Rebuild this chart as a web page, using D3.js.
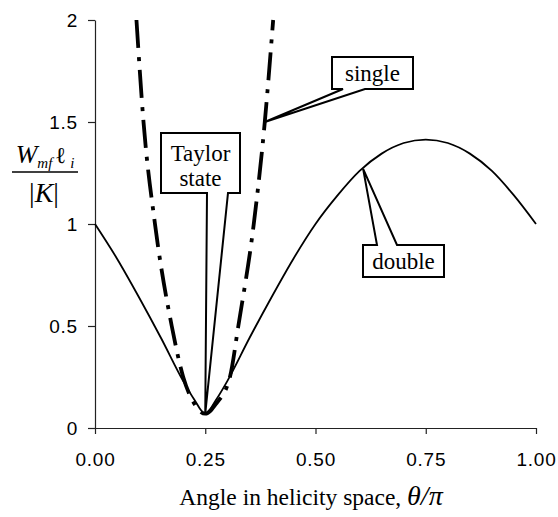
<!DOCTYPE html>
<html><head><meta charset="utf-8">
<script src="https://cdn.jsdelivr.net/npm/d3@7"></script>
<style>
body{margin:0;background:#fff;}
svg{display:block;}
.tick text{font-family:"Liberation Sans",Arial,sans-serif;font-size:19px;fill:#000;letter-spacing:0.8px;}
.serif{font-family:"Liberation Serif","Times New Roman",serif;fill:#000;}
</style></head>
<body>
<svg id="c" width="558" height="517"></svg>
<script>
// ---- data ----
const xTickValues = [0, 0.25, 0.5, 0.75, 1];
const xTickLabels = ["0.00", "0.25", "0.50", "0.75", "1.00"];
const yTickValues = [0, 0.5, 1, 1.5, 2];
const yTickLabels = ["0", "0.5", "1", "1.5", "2"];

const doubleX = [0, 0.05, 0.10, 0.15, 0.20, 0.225, 0.25, 0.275, 0.30, 0.35, 0.40, 0.45, 0.50, 0.55, 0.60, 0.65, 0.70, 0.75, 0.80, 0.85, 0.90, 0.95, 1.00];
const doubleY = [1.00, 0.83, 0.64, 0.44, 0.23, 0.14, 0.07, 0.14, 0.23, 0.44, 0.64, 0.83, 1.00, 1.14, 1.26, 1.345, 1.397, 1.414, 1.397, 1.345, 1.26, 1.14, 1.00];

const singleX = [0.094, 0.11, 0.136, 0.174, 0.20, 0.225, 0.25, 0.275, 0.306, 0.325, 0.36, 0.385, 0.404];
const singleY = [2.00, 1.50, 1.00, 0.50, 0.25, 0.12, 0.07, 0.12, 0.25, 0.50, 1.00, 1.50, 2.00];

const annotations = ["Taylor", "state", "single", "double"];
const taylorPoint = [0.25, 0.07];
const singlePoint = [0.385, 1.5];
const doublePoint = [0.608, 1.27];

// ---- chart ----
const svg = d3.select("#c");
const x = d3.scaleLinear().domain([0, 1]).range([95, 536]);
const y = d3.scaleLinear().domain([0, 2]).range([428, 20]);

const xAxis = d3.axisBottom(x).tickValues(xTickValues)
  .tickFormat((d, i) => xTickLabels[i]).tickSize(6).tickSizeOuter(0).tickPadding(19);
const yAxis = d3.axisLeft(y).tickValues(yTickValues)
  .tickFormat((d, i) => yTickLabels[i]).tickSize(7).tickSizeOuter(0).tickPadding(10);

const gx = svg.append("g").attr("transform", "translate(0,428)").call(xAxis);
const gy = svg.append("g").attr("transform", "translate(95,0)").call(yAxis);
[gx, gy].forEach(g => {
  g.select(".domain").attr("stroke", "#222").attr("stroke-width", 1.2);
  g.selectAll(".tick line").attr("stroke", "#222").attr("stroke-width", 1.2);
});

const line = d3.line().x(d => x(d[0])).y(d => y(d[1])).curve(d3.curveMonotoneX);

svg.append("path")
  .datum(doubleX.map((v, i) => [v, doubleY[i]]))
  .attr("d", line).attr("fill", "none").attr("stroke", "#000").attr("stroke-width", 1.8);

svg.append("path")
  .datum(singleX.map((v, i) => [v, singleY[i]]))
  .attr("d", line).attr("fill", "none").attr("stroke", "#000").attr("stroke-width", 3.8)
  .attr("stroke-dasharray", "28,9,4,9");

// callouts
function callout(pathStr) {
  svg.append("path").attr("d", pathStr).attr("fill", "#fff")
    .attr("stroke", "#000").attr("stroke-width", 2).attr("stroke-linejoin", "miter");
}
let tp = [x(taylorPoint[0]), y(taylorPoint[1])];
callout(`M161,133H240V193H228L${tp[0]},${tp[1]}L207,193H161Z`);
let sp = [x(singlePoint[0]), y(singlePoint[1])];
callout(`M332,57H413V89H365L${sp[0]},${sp[1]}L343,89H332Z`);
let dp = [x(doublePoint[0]), y(doublePoint[1])];
callout(`M363,277V245H377L${dp[0]},${dp[1]}L397,245H444V277Z`);

svg.append("text").attr("class", "serif").attr("x", 200.5).attr("y", 161)
  .attr("text-anchor", "middle").attr("font-size", 23).text(annotations[0]);
svg.append("text").attr("class", "serif").attr("x", 200.5).attr("y", 186)
  .attr("text-anchor", "middle").attr("font-size", 23).text(annotations[1]);
svg.append("text").attr("class", "serif").attr("x", 372.5).attr("y", 81)
  .attr("text-anchor", "middle").attr("font-size", 23).text(annotations[2]);
svg.append("text").attr("class", "serif").attr("x", 403.5).attr("y", 269)
  .attr("text-anchor", "middle").attr("font-size", 23).text(annotations[3]);

// x title
const xt = svg.append("text").attr("class", "serif").attr("x", 311).attr("y", 505)
  .attr("text-anchor", "middle").attr("font-size", 23.5);
xt.append("tspan").text("Angle in helicity space, ");
xt.append("tspan").attr("font-style", "italic").attr("font-size", 28).text("θ/π");

// y label (fraction)
const yl = svg.append("text").attr("class", "serif").attr("x", 45).attr("y", 163)
  .attr("text-anchor", "middle").attr("font-size", 26);
yl.append("tspan").attr("font-style", "italic").text("W");
yl.append("tspan").attr("font-style", "italic").attr("font-size", 15).attr("dy", 5).text("mf");
yl.append("tspan").attr("font-size", 23).attr("dy", -5).attr("dx", 3).text("ℓ");
yl.append("tspan").attr("font-style", "italic").attr("font-size", 15).attr("dy", 5).text(" i");
svg.append("line").attr("x1", 12).attr("x2", 78).attr("y1", 172).attr("y2", 172)
  .attr("stroke", "#000").attr("stroke-width", 1.5);
const yd = svg.append("text").attr("class", "serif").attr("x", 44).attr("y", 202)
  .attr("text-anchor", "middle").attr("font-size", 28);
yd.append("tspan").text("|");
yd.append("tspan").attr("font-style", "italic").text("K");
yd.append("tspan").text("|");
</script>
</body></html>
